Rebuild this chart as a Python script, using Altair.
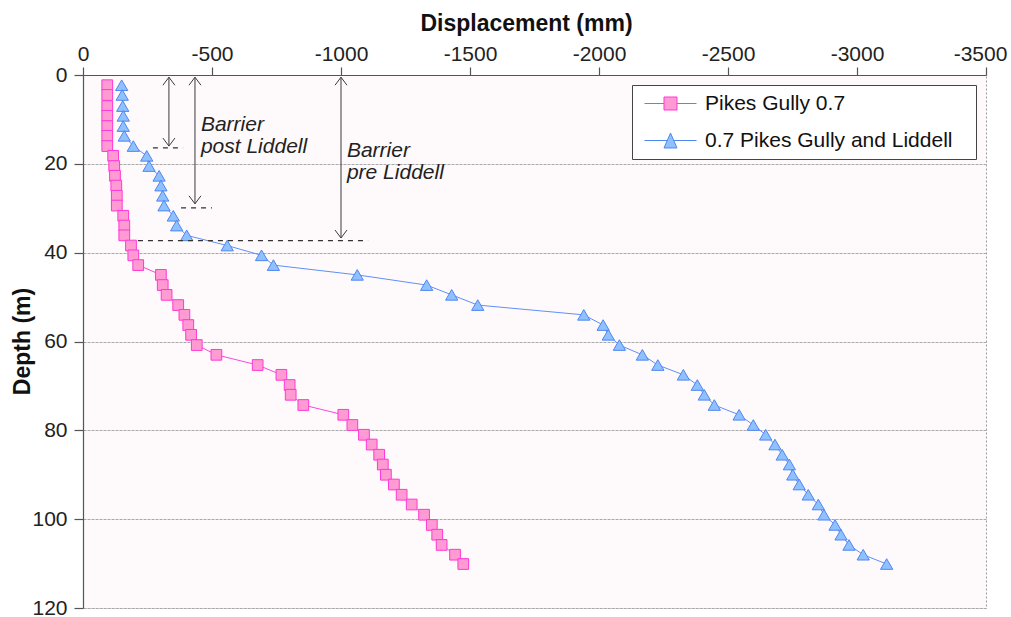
import altair as alt
import pandas as pd

# ---------------- data ----------------
depth_m = [2.3, 4.5, 7.0, 9.2, 11.5, 13.7, 16.0, 18.2, 20.5, 22.7, 24.9, 27.2, 29.4,
           31.7, 33.9, 36.1, 38.4, 40.6, 42.8, 45.0, 47.3, 49.5, 51.8, 54.0, 56.3,
           58.5, 60.8, 63.0, 65.3, 67.5, 69.8, 72.0, 74.3, 76.5, 78.8, 81.0, 83.2,
           85.5, 87.7, 90.0, 92.2, 94.5, 96.7, 99.0, 101.3, 103.5, 105.8, 108.0, 110.1]

pikes_gully = [-94, -94, -94, -94, -94, -94, -94, -117, -121, -124, -129, -131, -131,
               -156, -160, -160, -186, -195, -214, -302, -309, -324, -369, -393, -408,
               -419, -441, -517, -677, -769, -801, -805, -854, -1009, -1044, -1089, -1119,
               -1148, -1162, -1174, -1205, -1235, -1274, -1322, -1352, -1373, -1390, -1442, -1474]

pikes_liddell = [-150, -152, -154, -156, -156, -160, -195, -247, -256, -295, -302, -309, -314,
                 -350, -363, -402, -559, -692, -738, -1063, -1332, -1429, -1530, -1941, -2016,
                 -2036, -2079, -2168, -2228, -2327, -2381, -2408, -2447, -2543, -2598, -2646, -2682,
                 -2710, -2738, -2751, -2776, -2811, -2850, -2872, -2915, -2938, -2969, -3024, -3115]

series_names = ["Pikes Gully 0.7", "0.7 Pikes Gully and Liddell"]

x_ticks = [0, -500, -1000, -1500, -2000, -2500, -3000, -3500]
y_ticks = [0, 20, 40, 60, 80, 100, 120]

# annotations (double arrows, dashed marker lines, labels)
arrow_x = [-333, -434, -1000]
arrow_top = [0.5, 0.5, 0.5]
arrow_bottom = [16.0, 29.0, 36.7]

dash_x1 = [-271, -380, -213]
dash_x2 = [-388, -500, -1105]
dash_depth = [16.4, 29.9, 37.3]

label_text = ["Barrier", "post Liddell", "Barrier", "pre Liddell"]
label_x = [-457, -457, -1023, -1023]
label_depth = [11.2, 16.1, 17.0, 22.0]

# ---------------- styles ----------------
FONT = "Liberation Sans"
PINK_LINE, PINK_FILL, PINK_STROKE = "#ff44e0", "#ff9ad2", "#ff38d6"
BLUE_LINE, BLUE_FILL, BLUE_STROKE = "#5f8ff8", "#8fc1ff", "#4f86f0"
INK = "#3a3a3a"
BLANK = "\u2800"  # blank glyph used as right-hand spacing inside the legend box

df = pd.DataFrame({
    "depth": depth_m + depth_m,
    "disp": pikes_gully + pikes_liddell,
    "series": [series_names[0]] * len(depth_m) + [series_names[1]] * len(depth_m),
})
pink_df = df[df.series == series_names[0]]
blue_df = df[df.series == series_names[1]]

arrows = pd.DataFrame({"x": arrow_x, "top": arrow_top, "bottom": arrow_bottom})
dashes = pd.DataFrame({"x1": dash_x1, "x2": dash_x2, "d": dash_depth})
labels = pd.DataFrame({"t": label_text, "x": label_x, "d": label_depth})

x_scale = alt.Scale(domain=[0, -3500], nice=False, zero=False)
y_scale = alt.Scale(domain=[0, 120], reverse=True, nice=False, zero=False)

x_axis = alt.Axis(orient="top", values=x_ticks, labelExpr="'' + datum.value",
                  title="Displacement (mm)", grid=False, tickSize=8, labelPadding=7,
                  labelFlush=False, labelOverlap=False,
                  labelOffset={"condition": {"test": "datum.value <= -3500", "value": -6},
                               "value": 0},
                  labelBaseline="alphabetic", titleX=443, titleY=-45,
                  titleBaseline="alphabetic", titleAlign="center")
y_axis = alt.Axis(orient="left", values=y_ticks, title="Depth (m)", grid=True,
                  tickSize=9, labelPadding=7, labelFlush=False, labelOverlap=False,
                  titleAngle=270, titleX=-54,
                  titleY=266, titleBaseline="alphabetic", titleAlign="center")


def X(field):
    return alt.X(field, type="quantitative", scale=x_scale, axis=x_axis)


def Y(field):
    return alt.Y(field, type="quantitative", scale=y_scale, axis=y_axis)


pink_line = alt.Chart(pink_df).mark_line(color=PINK_LINE, strokeWidth=1).encode(
    x=X("disp"), y=Y("depth"), order="depth:Q")
blue_line = alt.Chart(blue_df).mark_line(color=BLUE_LINE, strokeWidth=1).encode(
    x=X("disp"), y=Y("depth"), order="depth:Q")
pink_pts = alt.Chart(pink_df).mark_point(shape="square", filled=True, size=115,
                                         fill=PINK_FILL, stroke=PINK_STROKE,
                                         strokeWidth=1, opacity=1).encode(
    x=X("disp"), y=Y("depth"))
blue_pts = alt.Chart(blue_df).mark_point(shape="triangle-up", filled=True, size=150,
                                         fill=BLUE_FILL, stroke=BLUE_STROKE,
                                         strokeWidth=1, opacity=1).encode(
    x=X("disp"), y=Y("depth"))

arrow_rules = alt.Chart(arrows).mark_rule(color=INK, strokeWidth=1).encode(
    x=X("x"), y=Y("top"), y2="bottom")
head_up = alt.Chart(arrows).mark_point(shape="M-0.75,1L0,0L0.75,1", filled=False,
                                       size=256, stroke=INK, strokeWidth=1,
                                       opacity=1).encode(x=X("x"), y=Y("top"))
head_down = alt.Chart(arrows).mark_point(shape="M-0.75,-1L0,0L0.75,-1", filled=False,
                                         size=256, stroke=INK, strokeWidth=1,
                                         opacity=1).encode(x=X("x"), y=Y("bottom"))
dash_rules = alt.Chart(dashes).mark_rule(color="#333333", strokeWidth=1.2,
                                         strokeDash=[5, 5]).encode(
    x=X("x1"), x2="x2", y=Y("d"))
texts = alt.Chart(labels).mark_text(align="left", baseline="middle", font=FONT,
                                    fontSize=21, fontStyle="italic",
                                    color="#222222").encode(
    x=X("x"), y=Y("d"), text="t:N")

# legend built from the series through the library's legend
sq_path = "M-4,0L-1,0M1,0L4,0M-1,-1L1,-1L1,1L-1,1Z"
tri_path = "M-4,0L-0.5,0M0.5,0L4,0M0,-1.15L1,1.15L-1,1.15Z"
leg = alt.Legend(orient="none", legendX=549, legendY=10, title=None, padding=8,
                 strokeColor="#444444", fillColor="white", symbolSize=169,
                 symbolStrokeWidth=1, symbolOffset=20, labelOffset=24,
                 rowPadding=15, labelFont=FONT, labelFontSize=21,
                 labelColor="#111111", symbolOpacity=1, labelLimit=500,
                 labelExpr="datum.label + '" + BLANK + "'")
legend_layer = alt.Chart(df).mark_point(filled=True, opacity=0).encode(
    x=X("disp"), y=Y("depth"),
    shape=alt.Shape("series:N", scale=alt.Scale(domain=series_names,
                                                range=[sq_path, tri_path]), legend=leg),
    fill=alt.Fill("series:N", scale=alt.Scale(domain=series_names,
                                              range=[PINK_FILL, BLUE_FILL]), legend=leg),
    stroke=alt.Stroke("series:N", scale=alt.Scale(domain=series_names,
                                                  range=[PINK_STROKE, BLUE_STROKE]), legend=leg),
)

chart = alt.layer(
    legend_layer, pink_line, blue_line, arrow_rules, head_up, head_down,
    pink_pts, blue_pts, dash_rules, texts,
).properties(
    width=903, height=533,
    autosize=alt.AutoSizeParams(type="none"),
    padding={"left": 83, "top": 75, "right": 25, "bottom": 9},
).configure(
    background="white",
).configure_view(
    fill="#fefafb", stroke="#9a9a9a", strokeDash=[2, 2], strokeWidth=1,
).configure_axis(
    labelFont=FONT, labelFontSize=21, labelColor="#222222",
    titleFont=FONT, titleFontSize=23, titleFontWeight="bold", titleColor="#111111",
    domainColor="#555555", domainWidth=1.2, tickColor="#555555", tickWidth=1.2,
    gridColor="#a8a8a8", gridWidth=1, gridDash=[3, 1],
)

chart.save("out.html", embed_options={"renderer": "svg", "actions": False})
